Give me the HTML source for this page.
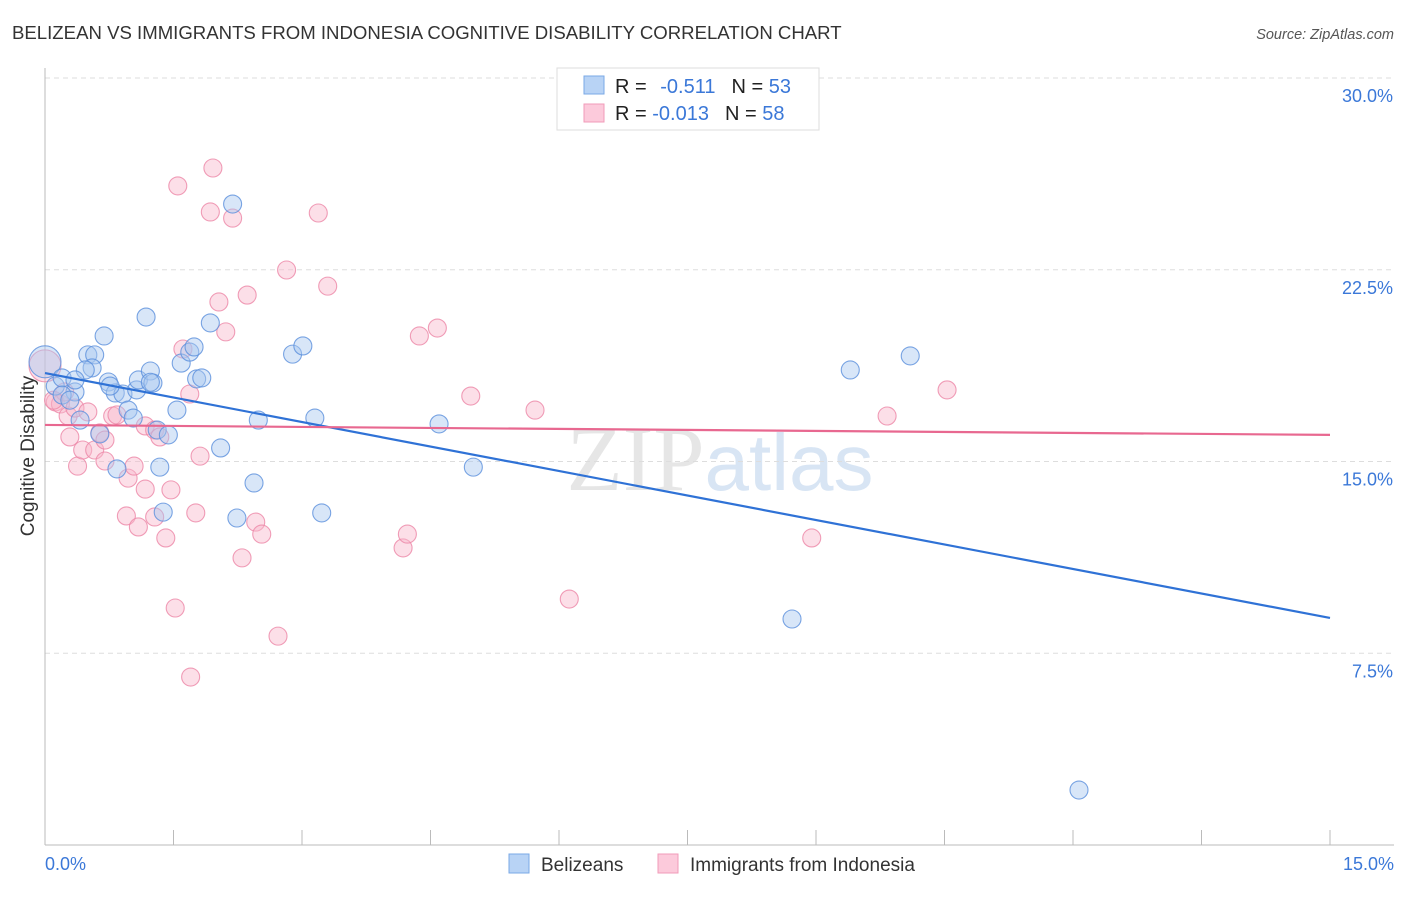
<!DOCTYPE html>
<html><head><meta charset="utf-8"><style>
body{margin:0;background:#fff;font-family:"Liberation Sans",sans-serif;}
svg text{font-family:"Liberation Sans",sans-serif;}
</style></head><body>
<svg id="chart" width="1406" height="892" viewBox="0 0 1406 892">
<text x="12" y="39" font-size="18.6" fill="#333">BELIZEAN VS IMMIGRANTS FROM INDONESIA COGNITIVE DISABILITY CORRELATION CHART</text>
<text x="1394" y="39" font-size="14.5" fill="#555" font-style="italic" text-anchor="end">Source: ZipAtlas.com</text>
<text x="34" y="456" font-size="19" fill="#333" text-anchor="middle" transform="rotate(-90 34 456)">Cognitive Disability</text>
<text x="720" y="490" font-size="92" fill="#e6e6e6" text-anchor="middle" font-family="Liberation Serif"><tspan font-family="Liberation Serif">ZIP</tspan><tspan fill="#d8e5f4" font-family="Liberation Sans" font-size="80">atlas</tspan></text>
<g id="grid"></g><g id="axes"></g><g id="pts"></g><g id="trends"></g>
<g>
<rect x="557" y="68" width="262" height="62" fill="#fff" stroke="#ddd"/>
<rect x="584" y="76" width="20" height="18" fill="#b8d3f5" stroke="#7aa8e6"/>
<rect x="584" y="104" width="20" height="18" fill="#fccadb" stroke="#f19bb8"/>
<text x="615" y="93" font-size="20" fill="#222">R = <tspan fill="#3b78d8" dx="8">-0.511</tspan><tspan fill="#222" dx="16">N = </tspan><tspan fill="#3b78d8">53</tspan></text>
<text x="615" y="120" font-size="20" fill="#222">R = <tspan fill="#3b78d8">-0.013</tspan><tspan fill="#222" dx="16">N = </tspan><tspan fill="#3b78d8">58</tspan></text>
</g>
<g>
<rect x="509" y="854" width="20" height="19" fill="#b8d3f5" stroke="#7aa8e6"/>
<text x="541" y="871" font-size="19" fill="#333">Belizeans</text>
<rect x="658" y="854" width="20" height="19" fill="#fccadb" stroke="#f19bb8"/>
<text x="690" y="871" font-size="19" fill="#333">Immigrants from Indonesia</text>
</g>
</svg>
<script>
const yTicks=[7.5,15,22.5,30];
const yTickLabels=["7.5%","15.0%","22.5%","30.0%"];
const xTickLabels=["0.0%","15.0%"];
const blueX=[0,0.12,0.2,0.35,0.41,0.5,0.58,0.55,0.47,0.69,0.64,0.74,0.82,0.84,0.91,0.97,1.03,1.07,1.09,1.18,1.23,1.26,1.31,1.34,1.38,1.44,1.54,1.59,1.69,1.74,1.77,1.83,1.93,2.05,2.19,2.24,2.44,2.49,2.89,3.01,3.15,3.23,4.6,5.0,9.4,10.1,8.72,12.07,0.2,0.29,0.76,1.23,0.35];
const blueY=[18.9,17.95,18.27,17.72,16.62,19.17,19.17,18.66,18.58,19.91,16.08,18.11,17.68,14.71,17.64,17.01,16.7,17.8,18.19,20.65,18.54,18.07,16.23,14.78,13.02,16.04,17.01,18.85,19.28,19.48,18.23,18.27,20.42,15.53,25.07,12.79,14.16,16.62,19.2,19.52,16.7,12.99,16.47,14.78,18.58,19.13,8.84,2.15,17.6,17.4,17.95,18.1,18.19];
const pinkX=[0,0.12,0.18,0.27,0.23,0.29,0.38,0.35,0.5,0.44,0.58,0.64,0.7,0.79,0.84,0.97,1.04,0.95,1.09,1.17,1.17,1.28,1.28,1.34,1.41,1.47,1.52,1.55,1.61,1.69,1.7,1.76,1.81,1.93,1.96,2.03,2.11,2.19,2.3,2.36,2.46,2.53,2.72,2.82,3.19,3.3,4.18,4.23,4.37,4.58,4.97,5.72,6.12,8.95,9.83,10.53,0.7,0.1];
const pinkY=[18.74,17.33,17.25,16.78,17.72,15.96,14.82,17.09,16.94,15.45,15.45,16.12,15.02,16.78,16.82,14.35,14.82,12.87,12.44,13.92,16.39,12.83,16.23,15.96,12.01,13.89,9.27,25.78,19.4,17.64,6.57,12.99,15.21,24.76,26.48,21.24,20.07,24.52,11.23,21.51,12.63,12.16,8.17,22.49,24.72,21.86,11.62,12.16,19.91,20.22,17.56,17.01,9.62,12.01,16.78,17.8,15.84,17.4];
const blueTrend=[18.46,8.88];
const pinkTrend=[16.43,16.04];
const xMax=15, yMax=30;
const X=v=>45+v/xMax*1285;
const Y=v=>845-v/yMax*767;
const NS="http://www.w3.org/2000/svg";
function mk(tag,attrs,parent){const e=document.createElementNS(NS,tag);for(const k in attrs)e.setAttribute(k,attrs[k]);parent.appendChild(e);return e;}
const grid=document.getElementById('grid'),axes=document.getElementById('axes'),pts=document.getElementById('pts'),tr=document.getElementById('trends');
yTicks.forEach((t,i)=>{
 const l=mk('line',{x1:45,x2:1394,y1:Y(t),y2:Y(t),stroke:'#ddd','stroke-dasharray':'5,4'},grid);
 
 
 const tx=mk('text',{x:1393,y:Y(t)+24,'font-size':18,fill:'#3b78d8','text-anchor':'end'},grid);
 tx.textContent=yTickLabels[i];
 
 
});
const ya=mk('line',{x1:45,x2:45,y1:68,y2:845,stroke:'#bbb'},axes);


const xa=mk('line',{x1:45,x2:1394,y1:845,y2:845,stroke:'#bbb'},axes);


for(let i=0;i<=10;i++){
 const tk=mk('line',{x1:X(i*1.5),x2:X(i*1.5),y1:830,y2:845,stroke:'#bbb'},axes);
 
 
}
[[0,'start',45],[1,'end',1394]].forEach(([i,a,x])=>{
 const t=mk('text',{x:x,y:870,'font-size':18,fill:'#3b78d8','text-anchor':a},axes);
 t.textContent=xTickLabels[i];
 
 
});
function dots(xs,ys,fill,stroke,name){xs.forEach((x,i)=>{
 const r=(x===0)?16:9;
 const c=mk('circle',{cx:X(x),cy:Y(ys[i]),r:r,fill:fill,'fill-opacity':0.45,stroke:stroke,'stroke-width':1.1,'stroke-opacity':0.8},pts);
 
 
});}
dots(pinkX,pinkY,'#f8b8cc','#ec86a6','indonesia-point');
dots(blueX,blueY,'#a9c8f0','#5a8fdc','belizean-point');
const bl=mk('line',{x1:X(0),y1:Y(blueTrend[0]),x2:X(15),y2:Y(blueTrend[1]),stroke:'#2f72d6','stroke-width':2.2},tr);


const pl=mk('line',{x1:X(0),y1:Y(pinkTrend[0]),x2:X(15),y2:Y(pinkTrend[1]),stroke:'#e86890','stroke-width':2.2},tr);


</script>
</body></html>
